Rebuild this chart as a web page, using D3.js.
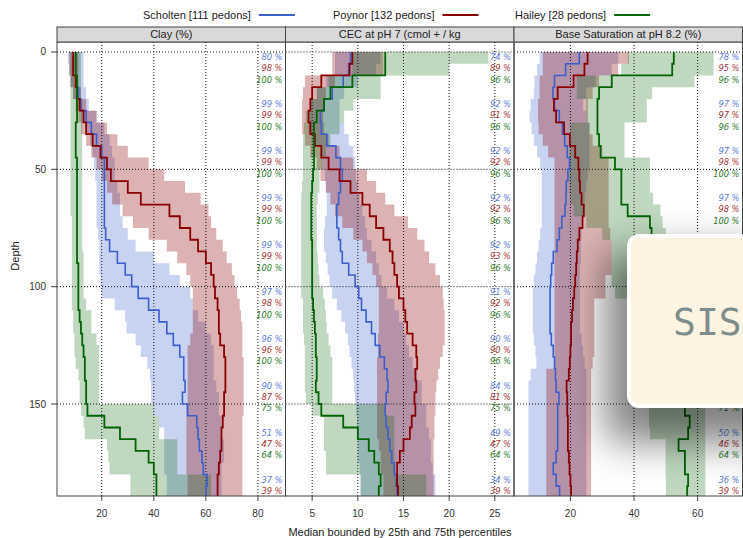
<!DOCTYPE html>
<html><head><meta charset="utf-8">
<script src="https://cdn.jsdelivr.net/npm/d3@7"></script>
<style>body{margin:0;background:#fff} svg{display:block}</style>
</head><body><svg id="c" width="743" height="538"></svg>
<script>
// ---------------- DATA ----------------
const depths = [0,5,10,15,20,25,30,35,40,45,50,55,60,65,70,75,80,85,90,95,100,105,110,115,120,125,130,135,140,145,150,155,160,165,170,175,180,185,190];
const seriesNames = ["Scholten [111 pedons]","Poynor [132 pedons]","Hailey [28 pedons]"];
const panelTitles = ["Clay (%)","CEC at pH 7 (cmol + / kg","Base Saturation at pH 8.2 (%)"];
const clayTicks = [20,40,60,80];
const cecTicks = [5,10,15,20,25];
const bsTicks = [20,40,60];
const depthTicks = [0,50,100,150];

// Clay (%)
const clayScholtenMed = [10,10,10,11,12,14,16,18,20,21,21,21,21,21,21,21.5,23,26,29,31.5,34,38,42,45,47.5,50,51.5,51.5,52,51,53,56.5,57,57.5,58.5,59,60.5,60,59.5];
const clayScholtenQ25 = [7,7.5,8,9,10,12,14,15.5,16.5,17,17.5,18,18,18,18,18.5,19,19,19,19.5,20,25,29,29.5,33,35,37.5,38.5,39,39,40,42,44,44,44,44,45,45,45];
const clayScholtenQ75 = [13,13,13,14,15,18,21,23,24,25,25,26,27,27,28,30,33,40,46,50,54,55,57,60,62,63,63,63,64,65,65,66,66,67,67,66,66,66,66];
const clayPoynorMed = [9,9,10,10.5,11.5,13,14,16.5,19.5,22,23.5,30,35,46,50,54,57,60,62,63,63.5,64.5,65,65,65.5,67,67.5,67.5,67.5,67,67,66.5,66,66,65.5,65,64.5,64.5,65];
const clayPoynorQ25 = [7.5,7.5,8,9,10,11,12,14,16,18,20,22,24,28,32,38,45,49,52.5,54,55,55,55,55,54,53,53,53,53,53,52.5,52.5,52.5,52.5,52.5,52.5,53,53,53];
const clayPoynorQ75 = [11,11,11,12,14,18,22,26,30,38,44,52,58,61,62,64,66.5,68,70,71,72,73,73.5,74,74,74,74.5,74.5,74.5,74.5,74.5,74,74,74,74,74,74,74,74];
const clayHaileyMed = [10,10,10.5,10.5,10.5,10.5,10,10,10,10.5,10.5,10.5,10.5,10.5,10.5,10.5,10.5,10.5,11,11,11,11,11.5,12,12.5,13,13.5,13.5,14,14,14.5,21,27,33,38,40,41,41,41];
const clayHaileyQ25 = [8,8,8,8,8,8,8,8,8,8,8,8,8,8,8.5,8.5,8.5,8.5,8.5,8.5,8.5,8.5,9,9,9.5,9.5,10,11,11.5,11.5,12,13,13.5,22,22.5,23,31,31,31];
const clayHaileyQ75 = [12,12,12,12,12.5,12.5,12.5,12.5,12.5,12.5,12.5,12.5,12.5,12.5,12.5,12.5,12.5,13,13,13,13,14,16,16,18,19,19,19,19,19,40,42,42,49,49,49,62,62,62];

// CEC at pH 7
const cecScholtenMed = [9.2,9,8.4,7.2,6.3,5.9,6,6.6,7.6,8.1,8.3,8.1,7.9,7.7,7.7,7.9,8.1,8.3,9,9.7,10.1,10.4,10.9,11.5,11.9,12.4,12.9,13.2,13.3,13.1,13,13.1,13.3,13.5,13.7,14,14.2,14.3,14.3];
const cecScholtenQ25 = [7.5,7.5,6.5,5.5,4.8,4.5,4.6,5,6,6.2,6.4,6.5,6.6,6.6,6.4,6.3,6.3,6.5,6.7,6.9,7.2,7.7,8.2,8.6,8.9,9.1,9.3,9.5,9.6,9.7,9.8,9.9,10,10,10,10.2,10.3,10.3,10.3];
const cecScholtenQ75 = [12.5,12,10,8.5,8,8,8.5,9,9.5,9.7,9.8,10,10.2,10.5,10.8,11,11.5,12,12.3,12.6,13.2,14,14.5,15,15.3,15.6,16,16.5,17,17,17.5,17.5,17.8,18,18,18.2,18.5,18.5,18.5];
const cecPoynorMed = [9.4,9.1,6,5,4.8,4.6,4.8,5.3,6,6.8,8,9.2,10.5,11.3,12,12.8,13.5,13.8,14,14.3,14.5,15,15.2,15.4,16,16.4,16.5,16.3,16.4,16.2,16.3,15.9,15.7,15,14.6,14.3,14.3,14.4,14.4];
const cecPoynorQ25 = [7.2,7.2,4.2,4,3.9,3.9,3.9,4.2,4.8,5.5,5.9,6.5,7,7.5,8.3,9.5,10.5,11,11.6,12,12.3,12.3,12.3,12.3,12.2,12.2,12.1,12.1,12.1,12.1,12.1,12.1,12.1,12.3,12.5,12.5,12.8,12.8,12.8];
const cecPoynorQ75 = [12.8,12.8,7.5,6.5,6.2,6.2,6.3,6.8,8,9.5,11,12,13,14,15.5,16.5,17.3,17.8,18.5,19,19.3,19.4,19.5,19.5,19.5,19.3,19,18.8,18.6,18.5,18.5,18.4,18.4,18.3,18.3,18.3,18.3,18.3,18.3];
const cecHaileyMed = [13,13,9.4,7,6.3,5.5,5.2,5.2,5.2,5.2,5.1,5,4.9,4.9,4.9,4.9,5,5,5,5,5,5.1,5.2,5.3,5.4,5.4,5.5,5.5,5.4,5.7,6,8.4,10,11.2,11.8,12.3,12.5,12.3,12.3];
const cecHaileyQ25 = [9.4,9.4,6.8,5.5,4.8,4.3,4.1,4,4,4,4,3.9,3.8,3.8,3.8,3.8,3.8,3.8,3.8,3.8,3.8,4,4,4,4.1,4.2,4.2,4.2,4.2,4.3,5,6.3,6.3,6.3,6.5,6.5,10.3,10.3,10.3];
const cecHaileyQ75 = [24.3,20,12.5,12.5,9.5,8.5,8,7,6.5,6.2,5.8,5.8,5.6,5.5,5.5,5.5,5.5,5.6,5.7,5.8,6.2,6.4,6.5,6.6,6.8,7,7.2,7.2,7.2,7.2,13,14,14,14,14,14,17.5,17.5,17.5];

// Base saturation at pH 8.2
const bsScholtenMed = [22.8,18.5,15,14.5,15,16.5,17.5,18.2,19,19.7,19.2,18.7,18.6,18.3,17.3,16.5,15.8,14.6,14.1,13.8,13.6,13.6,13.6,13.6,14,14.6,15,15.3,15.5,16.4,16,16,16,16,15.5,14.6,15.5,16.6,17];
const bsScholtenQ25 = [10.3,9.5,8.7,8.5,7.5,7.2,7.8,8.5,9.5,10.5,11,11,11,11,11,10.5,10,9.5,9,8.5,8.2,8.2,8.2,8.2,8.5,9,9.3,7.5,6.8,6.8,6.8,6.8,6.8,6.8,6.8,6.8,6.8,6.8,6.8];
const bsScholtenQ75 = [35,33,28,25,24,25,26,26,26,26,25.5,25,24.5,24,23.5,23.5,23.3,23.3,23,23,23,23,23,23,23.5,24,24.5,25,25,25,25,25,25,25,25,25,25,25,25];
const bsPoynorMed = [25.4,24.4,21,16,14.8,15.5,18,19.8,21.5,22.5,22.8,23,23.5,24.2,23.8,22.8,22.3,22,21.8,21.5,21.2,20.8,20.5,20.2,20.2,20,19.8,19.5,18.8,19,19,19.2,19.2,19.2,19.5,19.7,20,20.2,20.2];
const bsPoynorQ25 = [11.3,11.3,10.3,10.3,9.8,9.8,10,11.3,13,15,15,15,15,15,15,15,15,15,15,15,15,15,15,15,15,15,15,12.4,12.4,12.4,12.4,12.4,12.4,12.4,12.4,12.4,12.4,12.4,12.4];
const bsPoynorQ75 = [38.4,35,29,27,25.5,25.5,26,27,30,32,32,32,32,32,32,32.5,33,33,33,31,31,27.5,27.5,27.5,27.5,27.5,27,26.5,26.5,26.5,26.5,26.5,26.5,26.5,26.5,26.5,26.5,26.5,26.5];
const bsHaileyMed = [52.5,52,33,29,28.5,28.5,28.5,29,29.5,34,36,36,36,38,45,45.5,46,47,48,49,50,51,52,53,53.5,54,54.5,55,55.5,55.5,56,57.5,57,54,56,56,57,56.7,56.7];
const bsHaileyQ25 = [38,36,22,22,25,25,20,20,19.7,19.7,19.7,19.7,20,21,25,30,33,33,33,33,34,38,40,41,42,43,44,44,44,44.7,44.7,44.7,45,49.9,49.9,49.9,50,50,50];
const bsHaileyQ75 = [65,65,59,45.7,44,44,37,37,37,45,45,45,46,48.3,49,50,52,54,56,58,60,61,62,62,62,62,62,62,62,62,62.4,62.4,62.4,62.4,62.4,62.4,62.4,62.4,62.4];

// percent of profiles contributing, every 20 cm (null = not readable / hidden)
const clayPctScholten = [80,99,99,99,99,97,96,90,51,37];
const clayPctPoynor   = [98,99,99,99,99,98,96,87,47,39];
const clayPctHailey   = [100,100,100,100,100,100,100,75,64,null];
const cecPctScholten  = [74,92,92,92,92,91,90,84,49,34];
const cecPctPoynor    = [89,91,92,92,93,92,90,81,47,39];
const cecPctHailey    = [96,96,96,96,96,96,96,75,64,null];
const bsPctScholten   = [78,97,97,97,null,null,null,null,50,36];
const bsPctPoynor     = [95,97,98,98,null,null,null,null,46,39];
const bsPctHailey     = [96,96,100,100,null,null,null,71,64,null];

const popupText = "SIS";

// ---------------- DRAW ----------------
const svg = d3.select("#c");
const lineCols = ["#3A5FCD","#8B0000","#006400"];
const bandAlpha = [0.28,0.3,0.25];
const textCols = ["#5b7bd9","#a53434","#2c7a2c"];
const font = "'Liberation Sans', Arial, sans-serif";

const plotTop = 42, plotBottom = 496, stripTop = 27;
const panelX = [57, 285.5, 514], panelW = 228.5;
const y = d3.scaleLinear().domain([-4.26, 189.2]).range([plotTop, plotBottom]);

const panels = [
  {title: panelTitles[0], domain: [2.8, 90.6], ticks: clayTicks,
   series: [[clayScholtenMed,clayScholtenQ25,clayScholtenQ75,clayPctScholten],
            [clayPoynorMed,clayPoynorQ25,clayPoynorQ75,clayPctPoynor],
            [clayHaileyMed,clayHaileyQ25,clayHaileyQ75,clayPctHailey]]},
  {title: panelTitles[1], domain: [2.08, 27.1], ticks: cecTicks,
   series: [[cecScholtenMed,cecScholtenQ25,cecScholtenQ75,cecPctScholten],
            [cecPoynorMed,cecPoynorQ25,cecPoynorQ75,cecPctPoynor],
            [cecHaileyMed,cecHaileyQ25,cecHaileyQ75,cecPctHailey]]},
  {title: panelTitles[2], domain: [2.26, 74.1], ticks: bsTicks,
   series: [[bsScholtenMed,bsScholtenQ25,bsScholtenQ75,bsPctScholten],
            [bsPoynorMed,bsPoynorQ25,bsPoynorQ75,bsPctPoynor],
            [bsHaileyMed,bsHaileyQ25,bsHaileyQ75,bsPctHailey]]}
];

function stepRows(med, lo, hi) {
  const rows = [];
  depths.forEach((d, i) => {
    const d1 = i < depths.length - 1 ? depths[i + 1] : d + 5;
    rows.push({d: d, m: med[i], lo: lo[i], hi: hi[i]});
    rows.push({d: d1, m: med[i], lo: lo[i], hi: hi[i]});
  });
  return rows;
}

const defs = svg.append("defs");
const pctOffsets = [2.3, 7.0, 11.9];

panels.forEach((p, pi) => {
  const x0 = panelX[pi];
  const x = d3.scaleLinear().domain(p.domain).range([x0, x0 + panelW]);
  defs.append("clipPath").attr("id", "clip" + pi)
    .append("rect").attr("x", x0).attr("y", plotTop).attr("width", panelW).attr("height", plotBottom - plotTop);
  const g = svg.append("g").attr("clip-path", `url(#clip${pi})`);

  // bands
  p.series.forEach((s, si) => {
    const rows = stepRows(s[0], s[1], s[2]);
    const area = d3.area().y(r => y(r.d)).x0(r => x(r.lo)).x1(r => x(r.hi));
    g.append("path").attr("d", area(rows))
      .attr("fill", lineCols[si]).attr("fill-opacity", bandAlpha[si]).attr("stroke", "none");
  });

  // grid
  p.ticks.forEach(t => {
    g.append("line").attr("x1", x(t)).attr("x2", x(t)).attr("y1", plotTop).attr("y2", plotBottom)
      .attr("stroke", "#111").attr("stroke-width", 1).attr("stroke-dasharray", "1,2");
  });
  depthTicks.forEach(t => {
    g.append("line").attr("x1", x0).attr("x2", x0 + panelW).attr("y1", y(t)).attr("y2", y(t))
      .attr("stroke", "#111").attr("stroke-width", 1).attr("stroke-dasharray", "1,2");
  });

  // median lines
  p.series.forEach((s, si) => {
    const rows = stepRows(s[0], s[1], s[2]);
    const line = d3.line().x(r => x(r.m)).y(r => y(r.d));
    g.append("path").attr("d", line(rows)).attr("fill", "none")
      .attr("stroke", lineCols[si]).attr("stroke-width", si === 0 ? 1.6 : 1.8);
  });

  // percent annotations
  p.series.forEach((s, si) => {
    s[3].forEach((v, k) => {
      if (v === null) return;
      const dd = 20 * k + pctOffsets[si];
      if (dd > y.domain()[1]) return;
      g.append("text").attr("x", x0 + panelW - 3).attr("y", y(dd)).attr("dy", "0.35em")
        .attr("text-anchor", "end").attr("font-family", "'DejaVu Sans', sans-serif")
        .attr("font-style", "italic").attr("font-size", "8.3px").attr("fill", textCols[si])
        .text(v + " %");
    });
  });

  // panel border
  svg.append("rect").attr("x", x0).attr("y", plotTop).attr("width", panelW).attr("height", plotBottom - plotTop)
    .attr("fill", "none").attr("stroke", "#444").attr("stroke-width", 1);
  // strip
  svg.append("rect").attr("x", x0).attr("y", stripTop).attr("width", panelW).attr("height", plotTop - stripTop)
    .attr("fill", "#d9d9d9").attr("stroke", "#444").attr("stroke-width", 1);
  svg.append("text").attr("x", x0 + panelW / 2).attr("y", (stripTop + plotTop) / 2).attr("dy", "0.35em")
    .attr("text-anchor", "middle").attr("font-family", font).attr("font-size", "11px").attr("fill", "#222")
    .text(p.title);

  // x axis
  p.ticks.forEach(t => {
    svg.append("line").attr("x1", x(t)).attr("x2", x(t)).attr("y1", plotBottom).attr("y2", plotBottom + 5)
      .attr("stroke", "#444");
    svg.append("text").attr("x", x(t)).attr("y", 513).attr("dy", "0.35em").attr("text-anchor", "middle")
      .attr("font-family", font).attr("font-size", "10px").attr("fill", "#333").text(t);
  });
});

// y axis
depthTicks.forEach(t => {
  svg.append("line").attr("x1", 51).attr("x2", 57).attr("y1", y(t)).attr("y2", y(t)).attr("stroke", "#444");
  svg.append("text").attr("x", 46).attr("y", y(t)).attr("dy", "0.35em").attr("text-anchor", "end")
    .attr("font-family", font).attr("font-size", "10px").attr("fill", "#333").text(t);
});
svg.append("text").attr("transform", "translate(15,256) rotate(-90)").attr("text-anchor", "middle")
  .attr("dy", "0.35em").attr("font-family", font).attr("font-size", "11px").attr("fill", "#222").text("Depth");
svg.append("text").attr("x", 400).attr("y", 532).attr("dy", "0.35em").attr("text-anchor", "middle")
  .attr("font-family", font).attr("font-size", "11px").attr("fill", "#222")
  .text("Median bounded by 25th and 75th percentiles");

// legend
const legX = [143, 333, 515];
seriesNames.forEach((n, i) => {
  const t = svg.append("text").attr("x", legX[i]).attr("y", 15).attr("dy", "0.35em")
    .attr("font-family", font).attr("font-size", "11px").attr("fill", "#222").text(n);
  const w = t.node().getComputedTextLength();
  svg.append("line").attr("x1", legX[i] + w + 8).attr("x2", legX[i] + w + 44).attr("y1", 15).attr("y2", 15)
    .attr("stroke", lineCols[i]).attr("stroke-width", 2);
});

// overlay popup (screen artifact in reference)
const blur = defs.append("filter").attr("id", "shadow").attr("x", "-60%").attr("y", "-60%").attr("width", "220%").attr("height", "220%");
blur.append("feGaussianBlur").attr("stdDeviation", 20);
svg.append("rect").attr("x", 606).attr("y", 252).attr("width", 190).attr("height", 190).attr("rx", 12)
  .attr("fill", "#000").attr("fill-opacity", 0.5).attr("filter", "url(#shadow)");
svg.append("rect").attr("x", 629).attr("y", 236).attr("width", 150).attr("height", 170).attr("rx", 10)
  .attr("fill", "#fcf4e1").attr("stroke", "#ffffff").attr("stroke-width", 4);
svg.append("text").attr("x", 673).attr("y", 335).attr("font-family", "'DejaVu Sans Mono', monospace")
  .attr("font-size", "38px").attr("fill", "#7d8c8c").text(popupText);
</script>
</body></html>
